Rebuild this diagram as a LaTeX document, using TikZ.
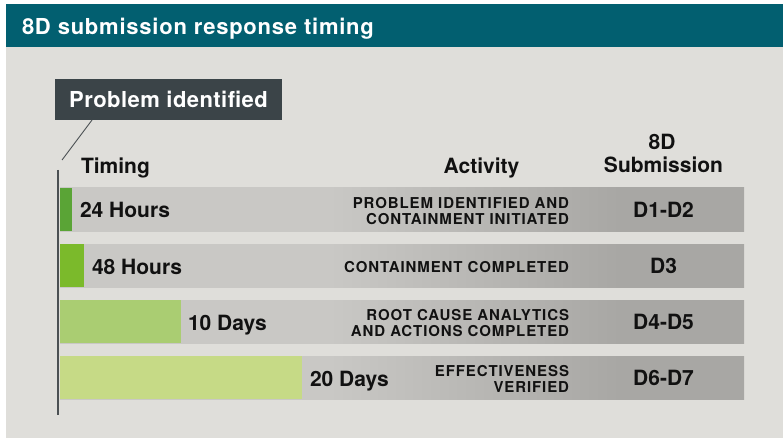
\documentclass[tikz,border=0pt]{standalone}
\usepackage{fontspec}
\setmainfont{TeX Gyre Heros}
\definecolor{tealhead}{HTML}{025F70}
\definecolor{bggray}{HTML}{DFDEDA}
\definecolor{boxdark}{HTML}{3B4448}
\definecolor{tline}{HTML}{4B5053}
\definecolor{barlight}{HTML}{C9C8C5}
\definecolor{bardark}{HTML}{A8A7A4}
\definecolor{gA}{HTML}{5AA436}
\definecolor{gB}{HTML}{7BBA2B}
\definecolor{gC}{HTML}{AACD72}
\definecolor{gD}{HTML}{C6DA86}
\definecolor{ink}{HTML}{111111}
\pgfdeclarehorizontalshading{barshade}{100bp}{color(0bp)=(barlight); color(44.7bp)=(barlight); color(65.9bp)=(bardark); color(100bp)=(bardark)}
\tikzset{
  hdr/.style={font=\fontsize{21}{24}\selectfont\bfseries, text=ink},
  rowlab/.style={font=\fontsize{21}{24}\selectfont\bfseries, text=ink, anchor=base west},
  actlab/.style={font=\fontsize{15}{16}\selectfont\bfseries\addfontfeature{LetterSpace=6}, text=ink, anchor=base east},
  dlab/.style={font=\fontsize{21}{24}\selectfont\bfseries, text=ink, anchor=base},
}
\newcommand{\drawbar}[3]{%
  \shade[shading=barshade] (60,#1) rectangle (744,#1+43);
  \fill[#3] (60,#1) rectangle (#2,#1+43);
}
\begin{document}
\begin{tikzpicture}[x=1pt,y=-1pt, every node/.style={inner sep=0pt, outer sep=0pt}]
\useasboundingbox (0,0) rectangle (783,438);
\fill[white] (0,0) rectangle (783,438);
\fill[bggray] (6,47) rectangle (783,438);
\fill[tealhead] (6,4) rectangle (783,47);
\node[anchor=base west, text=white, font=\fontsize{22}{26}\selectfont\bfseries\addfontfeature{LetterSpace=3.5}] (title) at (22,35) {8D submission response timing};

% problem identified callout
\node[fill=boxdark, minimum width=227pt, minimum height=41pt, text=white,
      font=\fontsize{22}{24}\selectfont\bfseries\addfontfeature{LetterSpace=2}, anchor=north west] (prob) at (55,79) {Problem identified};
\coordinate (probfoot) at (62,160);
\draw[tline, line width=0.9pt] ([xshift=37pt]prob.south west) -- (probfoot);

% bars
\drawbar{188}{72}{gA}
\drawbar{244}{84}{gB}
\drawbar{300}{181}{gC}
\drawbar{356}{302}{gD}

% timeline
\coordinate (ttop) at (58,170);
\coordinate (tbot) at (58,415);
\draw[tline, line width=2.2pt] (ttop) -- (tbot);

% headers
\node[hdr, anchor=base west] (hTiming) at (81,174) {Timing};
\node[hdr, anchor=base] (hAct) at (481.5,174) {Activity};
\node[hdr, anchor=base] (h8D) at (662,150) {8D};
\node[hdr, anchor=base] (hSub) at (663.5,173) {Submission};

% row labels
\node[rowlab] (r1) at (80,218) {24 Hours};
\node[rowlab] (r2) at (92,274) {48 Hours};
\node[rowlab] (r3) at (188,330) {10 Days};
\node[rowlab] (r4) at (310,386) {20 Days};

% activities
\node[actlab] (a1a) at (569,208.3) {PROBLEM IDENTIFIED AND};
\node[actlab] (a1b) at (569,224.3) {CONTAINMENT INITIATED};
\node[actlab] (a2) at (569,272.3) {CONTAINMENT COMPLETED};
\node[actlab] (a3a) at (569,320.3) {ROOT CAUSE ANALYTICS};
\node[actlab] (a3b) at (569,336.3) {AND ACTIONS COMPLETED};
\node[actlab] (a4a) at (569,376.3) {EFFECTIVENESS};
\node[actlab] (a4b) at (569,392.3) {VERIFIED};

% D labels
\node[dlab] (d1) at (663.5,217) {D1-D2};
\node[dlab] (d2) at (663.5,273) {D3};
\node[dlab] (d3) at (663.5,329) {D4-D5};
\node[dlab] (d4) at (663.5,385) {D6-D7};
\end{tikzpicture}
\end{document}
